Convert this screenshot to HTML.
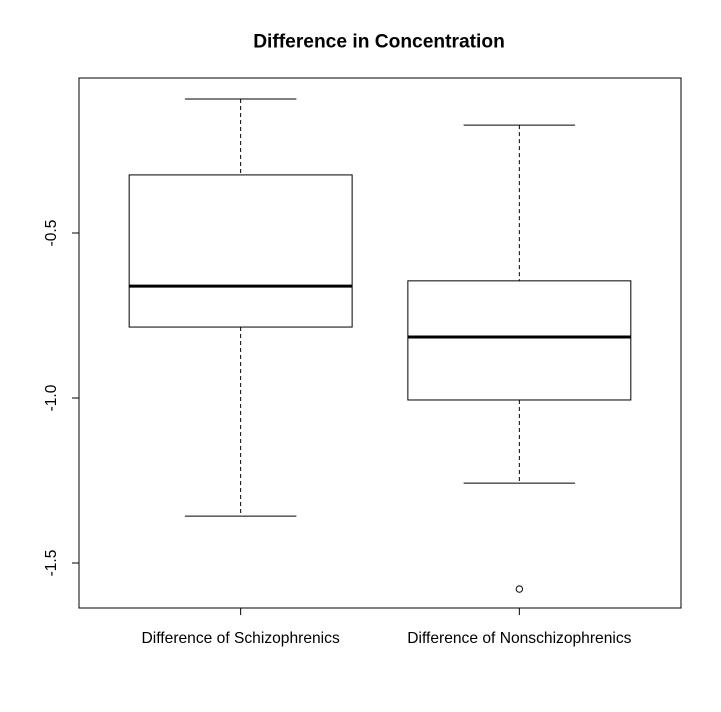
<!DOCTYPE html>
<html><head><meta charset="utf-8"><style>
body{margin:0;background:#fff;}
svg text{font-family:"Liberation Sans",Arial,sans-serif;}
</style></head><body>
<svg id="chart" width="721" height="707" xmlns="http://www.w3.org/2000/svg">
<rect width="721" height="707" fill="#fff"/>
<text x="379" y="47.5" text-anchor="middle" font-size="19.2" font-weight="bold">Difference in Concentration</text>
<rect x="79" y="78" width="602" height="530" fill="none" stroke="#000" stroke-width="1"/>
<g id="marks"></g>
</svg>
<script>
const categories = ["Difference of Schizophrenics","Difference of Nonschizophrenics"];
const whiskerLow = [-1.358, -1.258];
const q1 = [-0.785, -1.006];
const medians = [-0.661, -0.815];
const q3 = [-0.324, -0.645];
const whiskerHigh = [-0.094, -0.173];
const outliers = [[], [-1.579]];
const yTicks = [-0.5, -1.0, -1.5];
const yTickLabels = ["-0.5","-1.0","-1.5"];

const y = v => 233 + (-0.5 - v) * 330;
const x = i => 79 + (i + 1 - 0.42) * 278.7;
const NS = "http://www.w3.org/2000/svg";
const g = document.getElementById("marks");
function el(tag, attrs){const e=document.createElementNS(NS,tag);for(const k in attrs)e.setAttribute(k,attrs[k]);g.appendChild(e);return e;}

yTicks.forEach((t,i)=>{
  const l=el("line",{x1:72,x2:79,y1:y(t),y2:y(t),stroke:"#000"});
  
  
  const tx=el("text",{x:0,y:0,"font-size":15.5,"text-anchor":"middle",transform:`translate(56,${y(t)}) rotate(-90)`});
  tx.textContent=yTickLabels[i];
  
  
});

categories.forEach((c,i)=>{
  const cx=x(i), hw=0.4*278.7, cw=0.2*278.7;
  const t=el("line",{x1:cx,x2:cx,y1:608,y2:615,stroke:"#000"});
  
  
  const lab=el("text",{x:cx,y:643,"font-size":15.6,"text-anchor":"middle"});
  lab.textContent=c;
  
  
  const w1=el("line",{x1:cx,x2:cx,y1:y(whiskerHigh[i]),y2:y(q3[i]),stroke:"#000","stroke-dasharray":"4,3"});
  
  
  const w2=el("line",{x1:cx,x2:cx,y1:y(q1[i]),y2:y(whiskerLow[i]),stroke:"#000","stroke-dasharray":"4,3"});
  
  
  const c1=el("line",{x1:cx-cw,x2:cx+cw,y1:y(whiskerHigh[i]),y2:y(whiskerHigh[i]),stroke:"#000"});
  
  
  const c2=el("line",{x1:cx-cw,x2:cx+cw,y1:y(whiskerLow[i]),y2:y(whiskerLow[i]),stroke:"#000"});
  
  
  const b=el("rect",{x:cx-hw,y:y(q3[i]),width:2*hw,height:y(q1[i])-y(q3[i]),fill:"none",stroke:"#000"});
  
  
  const m=el("line",{x1:cx-hw,x2:cx+hw,y1:y(medians[i]),y2:y(medians[i]),stroke:"#000","stroke-width":3});
  
  
  outliers[i].forEach(o=>{
    const p=el("circle",{cx:cx,cy:y(o),r:3.2,fill:"none",stroke:"#000"});
    
    
  });
});
</script>
</body></html>
